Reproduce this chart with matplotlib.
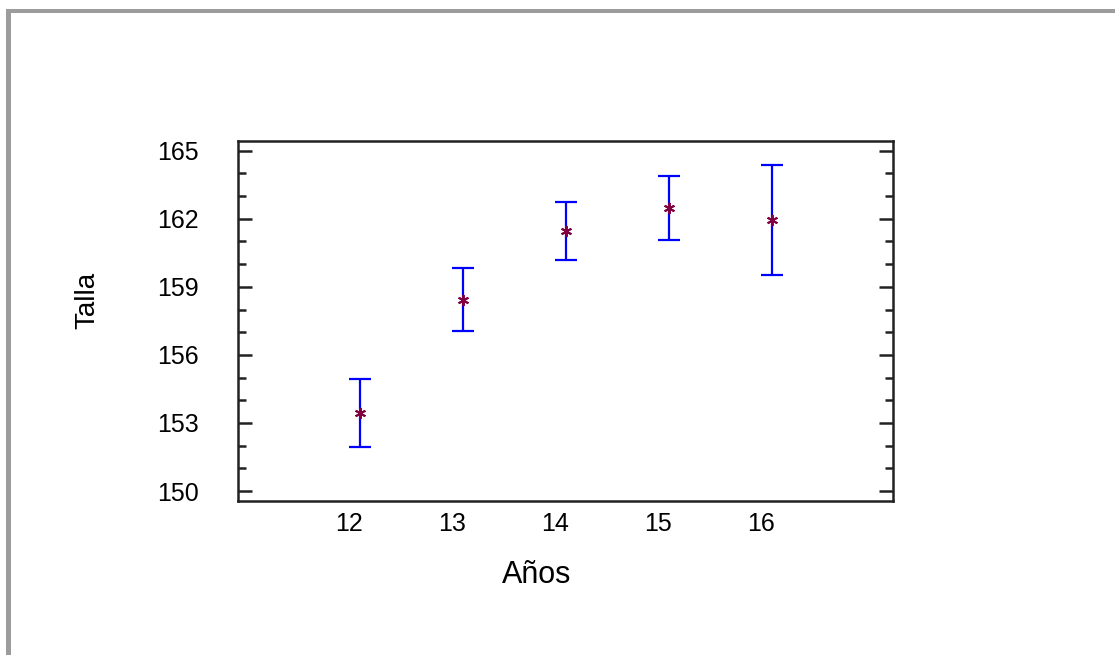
import matplotlib
matplotlib.use("Agg")
import matplotlib.pyplot as plt
from matplotlib.patches import Rectangle
from matplotlib.ticker import MultipleLocator
from matplotlib.transforms import ScaledTranslation

plt.rcParams["font.family"] = ["Liberation Sans", "DejaVu Sans"]

# data
ages = [12, 13, 14, 15, 16]
talla_mean = [153.45, 158.43, 161.47, 162.49, 161.95]
talla_err = [1.49, 1.39, 1.27, 1.41, 2.42]
yticks = [150, 153, 156, 159, 162, 165]

fig = plt.figure(figsize=(11.15, 6.55), dpi=100)
ax = fig.add_axes([238 / 1115, 1 - 501 / 655, 655 / 1115, 360 / 655])

ax.errorbar(ages, talla_mean, yerr=talla_err, fmt="none", ecolor="#0000ff",
            elinewidth=1.6, capsize=8, capthick=1.6)
ax.plot(ages, talla_mean, linestyle="none", marker=(6, 2, 0), markersize=8,
        color="#800040", markeredgewidth=1.4)

ax.set_xlim(10.816, 17.175)
ax.set_ylim(149.56, 165.43)
ax.set_xticks(ages)
ax.set_yticks(yticks)
ax.yaxis.set_minor_locator(MultipleLocator(1))

ax.tick_params(axis="x", length=0, labelsize=18, pad=8)
ax.tick_params(axis="y", which="major", direction="in", length=10, width=1.8,
               left=True, right=True, labelsize=18, pad=28, color="#222222")
ax.tick_params(axis="y", which="minor", direction="in", length=6, width=1.8,
               left=True, right=True, color="#222222")

# x tick labels sit slightly left of the points
shift = ScaledTranslation(-11 / 100, 0, fig.dpi_scale_trans)
for lab in ax.get_xticklabels():
    lab.set_transform(lab.get_transform() + shift)

for sp in ax.spines.values():
    sp.set_linewidth(1.8)
    sp.set_color("#222222")

fig.text(537 / 1115, 1 - 575 / 655, "Años", fontsize=22, ha="center", va="center")
fig.text(87 / 1115, 1 - 300 / 655, "Talla", fontsize=20, ha="center", va="center",
         rotation=90)

# gray window frame at top and left
fig.add_artist(Rectangle((6 / 1115, 1 - 13 / 655), 1, 4 / 655,
                         transform=fig.transFigure, color="#9c9c9c", lw=0))
fig.add_artist(Rectangle((6 / 1115, 0), 5 / 1115, 1 - 9 / 655,
                         transform=fig.transFigure, color="#9c9c9c", lw=0))

fig.savefig("out.png", dpi=100)
